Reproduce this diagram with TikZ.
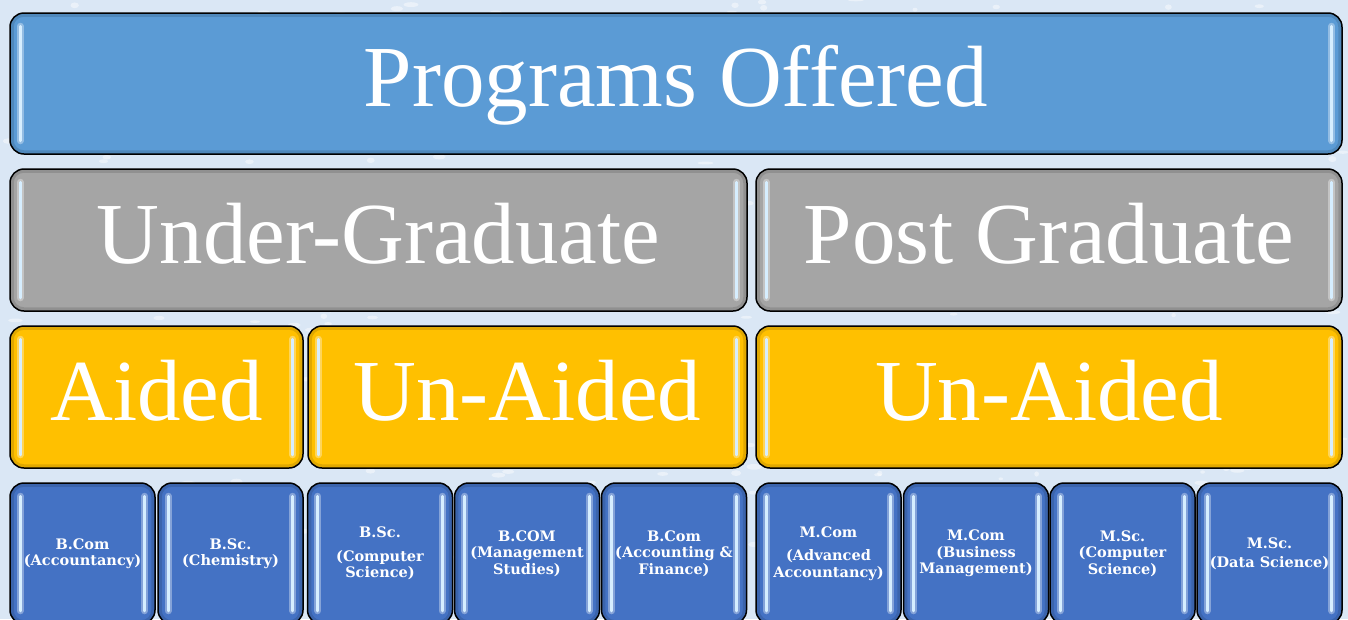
\documentclass[tikz,border=0pt]{standalone}
\usepackage{fontspec}
\setmainfont{Liberation Serif}
\newfontfamily\tilefont{DejaVu Serif}
\usetikzlibrary{calc}

\definecolor{skyblue}{RGB}{91,155,213}
\definecolor{stonegray}{RGB}{165,165,165}
\definecolor{ambergold}{RGB}{255,192,0}
\definecolor{royalblue}{RGB}{68,114,196}
\definecolor{frostbg}{RGB}{218,231,245}
\definecolor{glintblue}{RGB}{214,238,255}

\tikzset{every picture/.style={line width=1.5pt}}
\tikzset{
  tile/.style={draw=black, rounded corners=14, inner sep=0pt, text=white, align=center},
  bigtile/.style={tile, text height=62, text depth=16, font=\fontsize{87}{90}\selectfont},
  smalltile/.style={tile, fill=royalblue, minimum width=145, minimum height=141,
    font=\tilefont\bfseries\fontsize{14.5}{16.5}\selectfont},
  glint/.style={glintblue, line width=3pt, line cap=round},
  glow/.style={white, opacity=0.35, line width=7pt, line cap=round},
  inshade/.style={black, opacity=0.12, line width=4pt, rounded corners=12},
}

\begin{document}
\begin{tikzpicture}[x=1pt,y=1pt,yscale=-1,xscale=1]
	\useasboundingbox (0,0) rectangle (1348,619);
	\clip (0,0) rectangle (1348,619);
	\fill[frostbg] (0,0) rectangle (1348,619);
	% frosted texture
	\pgfmathsetseed{7}
	\foreach \k in {1,...,400}{
		\fill[white, opacity=0.45] (rnd*1348,rnd*619) ellipse ({2+rnd*6} and {1+rnd*2});
	}

	% Header
	\node[bigtile, fill=skyblue, minimum width=1332, minimum height=141] (top) at (676,83.5) {Programs Offered};

	% Level
	\node[bigtile, fill=stonegray, minimum width=737, minimum height=142] (ug) at (378.5,240) {Under-Graduate};
	\node[bigtile, fill=stonegray, minimum width=586, minimum height=142] (pg) at (1049,240) {Post Graduate};

	% Funding
	\node[bigtile, fill=ambergold, minimum width=293, minimum height=142] (aid) at (156.5,397) {Aided};
	\node[bigtile, fill=ambergold, minimum width=439, minimum height=142] (uaug) at (527.5,397) {Un-Aided};
	\node[bigtile, fill=ambergold, minimum width=586, minimum height=142] (uapg) at (1049,397) {Un-Aided};

	% Courses
	\node[smalltile] (c1) at (82.5,553.5) {B.Com\\(Accountancy)};
	\node[smalltile] (c2) at (230.5,553.5) {B.Sc.\\(Chemistry)};
	\node[smalltile] (c3) at (380,553.5) {B.Sc.\\[7pt](Computer\\Science)};
	\node[smalltile] (c4) at (527,553.5) {B.COM\\(Management\\Studies)};
	\node[smalltile] (c5) at (674,553.5) {B.Com\\(Accounting \&\\Finance)};
	\node[smalltile] (c6) at (828.5,553.5) {M.Com\\[7pt](Advanced\\Accountancy)};
	\node[smalltile] (c7) at (976,553.5) {M.Com\\(Business\\Management)};
	\node[smalltile] (c8) at (1122.5,553.5) {M.Sc.\\(Computer\\Science)};
	\node[smalltile] (c9) at (1269.5,553.5) {M.Sc.\\[2pt](Data Science)};

	% Side highlights and inner shade
	\foreach \n in {top,ug,pg,aid,uaug,uapg,c1,c2,c3,c4,c5,c6,c7,c8,c9}{
		\draw[inshade] ($(\n.north west)+(2.5,2.5)$) rectangle ($(\n.south east)+(-2.5,-2.5)$);
		\draw[glow] ($(\n.north west)+(11,14)$) -- ($(\n.south west)+(11,-14)$);
		\draw[glint] ($(\n.north west)+(11,14)$) -- ($(\n.south west)+(11,-14)$);
		\draw[glow] ($(\n.north east)+(-11,14)$) -- ($(\n.south east)+(-11,-14)$);
		\draw[glint] ($(\n.north east)+(-11,14)$) -- ($(\n.south east)+(-11,-14)$);
	}

\end{tikzpicture}
\end{document}
